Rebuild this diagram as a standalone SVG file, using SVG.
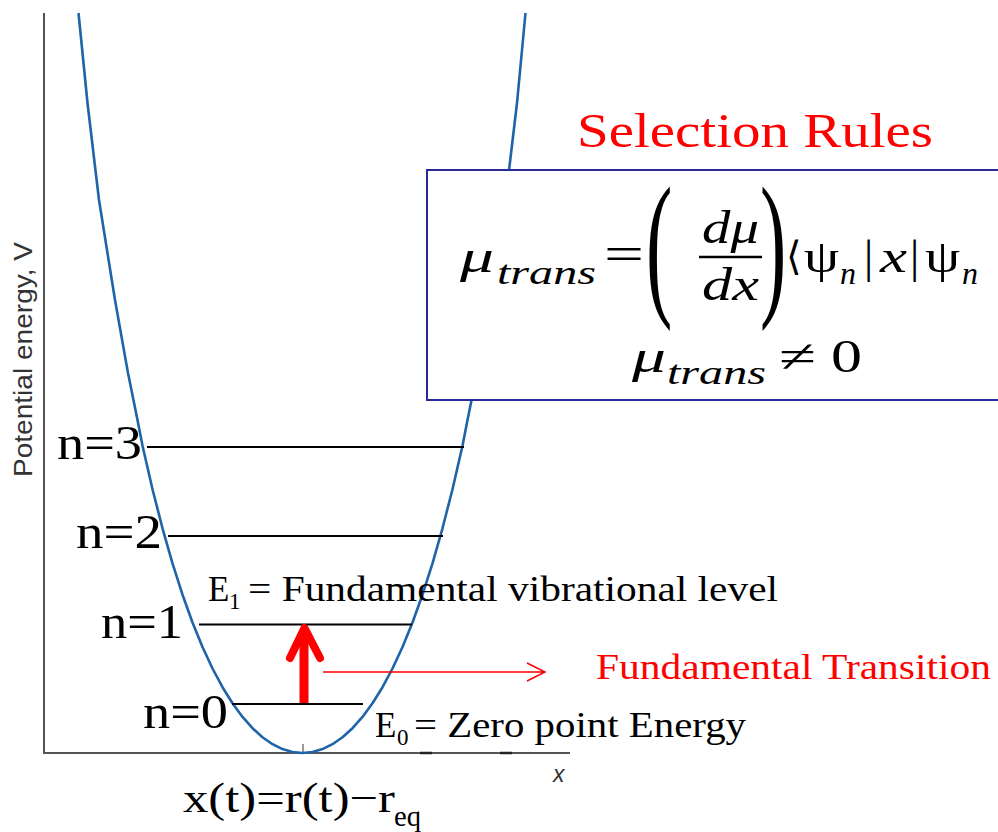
<svg xmlns="http://www.w3.org/2000/svg" width="998" height="832" viewBox="0 0 998 832">
<style>
.lbl{font-family:"Liberation Serif","Times New Roman",serif;fill:#000}
.red{fill:#ff0000}
.m{font-family:"Liberation Serif","DejaVu Serif",serif;fill:#000}
.mi{font-style:italic}
.lvl{stroke:#000;stroke-width:2;fill:none}
.ax{stroke:#555;stroke-width:2;fill:none}
</style>
<defs></defs>
<rect width="998" height="832" fill="#fff"/>
<g id="axes">
<line class="ax" x1="44" y1="13" x2="44" y2="754"/>
<line class="ax" x1="43" y1="753" x2="570" y2="753"/>
<line x1="420" y1="753" x2="432" y2="753" stroke="#222" stroke-width="2.5"/>
<line x1="500" y1="753" x2="512" y2="753" stroke="#222" stroke-width="2.5"/>
<line x1="303" y1="744" x2="303" y2="753" stroke="#333" stroke-width="1"/>
<text transform="translate(32,477) rotate(-90)" font-family="Liberation Sans, Arial, sans-serif" font-size="25" fill="#333" textLength="235" lengthAdjust="spacingAndGlyphs">Potential energy, V</text>
<text x="553" y="782" font-family="Liberation Sans, Arial, sans-serif" font-size="23" font-style="italic" fill="#333">x</text>
</g>
<g id="curve">
<path d="M78.5,13 L87.5,103 L99,200 L115,300 L128,373 L137.5,420 L142.5,445.7 L152.5,489.2 L162.5,528.3 L172.5,563.4 L182.5,594.7 L192.5,622.5 L202.5,647 L212.5,668.5 L222.5,687.2 L232.5,703.3 L242.5,716.9 L252.5,728.2 L262.5,737.3 L272.5,744.2 L282.5,749.1 L292.5,752 L302.5,753 L312.5,752 L322.5,749.1 L332.5,744.2 L342.5,737.3 L352.5,728.2 L362.5,716.9 L372.5,703.3 L382.5,687.2 L392.5,668.5 L402.5,647 L412.5,622.5 L422.5,594.7 L432.5,563.4 L442.5,528.3 L452.5,489.2 L462.5,445.7 L467.5,420 L477,373 L490,300 L505.5,200 L517,103 L525.5,13" fill="none" stroke="#1f63a8" stroke-width="2.6" stroke-linejoin="round"/>
</g>
<g id="box">
<rect x="427" y="170" width="580" height="230" fill="#fff" stroke="#2a2a96" stroke-width="2"/>
<text class="m mi" x="460" y="272" font-size="46" textLength="34" lengthAdjust="spacingAndGlyphs">μ</text>
<text class="m mi" x="497" y="284" font-size="34" textLength="99" lengthAdjust="spacingAndGlyphs">trans</text>
<text class="m" x="604" y="270" font-size="48" textLength="40" lengthAdjust="spacingAndGlyphs">=</text>
<text class="m" transform="translate(646,297) scale(0.5,1)" font-size="158">(</text>
<text class="m mi" x="702" y="243" font-size="46" textLength="57" lengthAdjust="spacingAndGlyphs">dμ</text>
<line x1="699" y1="257" x2="762" y2="257" stroke="#000" stroke-width="2.5"/>
<text class="m mi" x="702" y="300" font-size="46" textLength="57" lengthAdjust="spacingAndGlyphs">dx</text>
<text class="m" transform="translate(760,297) scale(0.5,1)" font-size="158">)</text>
<text class="m" x="786" y="270" font-size="40">⟨</text>
<text class="m" x="804" y="272" font-size="46" textLength="35" lengthAdjust="spacingAndGlyphs">ψ</text>
<text class="m mi" x="840" y="284" font-size="32">n</text>
<text class="m" x="864" y="272" font-size="46">|</text>
<text class="m mi" x="880" y="272" font-size="46" textLength="27" lengthAdjust="spacingAndGlyphs">x</text>
<text class="m" x="910" y="272" font-size="46">|</text>
<text class="m" x="925" y="272" font-size="46" textLength="35" lengthAdjust="spacingAndGlyphs">ψ</text>
<text class="m mi" x="962" y="284" font-size="32">n</text>
<text class="m mi" x="632" y="372" font-size="46" textLength="34" lengthAdjust="spacingAndGlyphs">μ</text>
<text class="m mi" x="667" y="384" font-size="34" textLength="99" lengthAdjust="spacingAndGlyphs">trans</text>
<text class="m" x="779" y="372" font-size="46" textLength="37" lengthAdjust="spacingAndGlyphs">≠</text>
<text class="m" x="831" y="372" font-size="46" textLength="31" lengthAdjust="spacingAndGlyphs">0</text>
</g>
<g id="title">
<text class="lbl red" x="577" y="147" font-size="49" textLength="356" lengthAdjust="spacingAndGlyphs">Selection Rules</text>
</g>
<g id="level3">
<line class="lvl" x1="147" y1="447" x2="464" y2="447"/>
<text class="lbl" x="57" y="459" font-size="48" textLength="85" lengthAdjust="spacingAndGlyphs">n=3</text>
</g>
<g id="level2">
<line class="lvl" x1="168" y1="536" x2="443" y2="536"/>
<text class="lbl" x="76" y="548" font-size="48" textLength="86" lengthAdjust="spacingAndGlyphs">n=2</text>
</g>
<g id="level1">
<line class="lvl" x1="199" y1="624.5" x2="412" y2="624.5"/>
<text class="lbl" x="101" y="638" font-size="48" textLength="82" lengthAdjust="spacingAndGlyphs">n=1</text>
<text class="lbl" x="208" y="601" font-size="35">E</text>
<text class="lbl" x="229" y="609" font-size="23">1</text>
<text class="lbl" x="248" y="601" font-size="35" textLength="530" lengthAdjust="spacingAndGlyphs">= Fundamental vibrational level</text>
</g>
<g id="level0">
<line class="lvl" x1="232" y1="704" x2="363" y2="704"/>
<text class="lbl" x="143" y="728" font-size="48" textLength="85" lengthAdjust="spacingAndGlyphs">n=0</text>
<text class="lbl" x="375" y="737" font-size="35">E</text>
<text class="lbl" x="397" y="745" font-size="23">0</text>
<text class="lbl" x="414" y="737" font-size="35" textLength="332" lengthAdjust="spacingAndGlyphs">= Zero point Energy</text>
</g>
<g id="connectors">
<path d="M304,703 L304,634" stroke="#ff0000" stroke-width="9" fill="none"/>
<path d="M290,658 L304.5,628 L320,658" stroke="#ff0000" stroke-width="8" fill="none" stroke-linecap="round" stroke-linejoin="round"/>
<path d="M323,672 L545,672 M527,663 L545,672 L527,681" stroke="#ff0000" stroke-width="1.5" fill="none"/>
</g>
<g id="labels">
<text class="lbl red" x="596" y="679" font-size="36" textLength="395" lengthAdjust="spacingAndGlyphs">Fundamental Transition</text>
<text class="lbl" x="183" y="812" font-size="42" textLength="212" lengthAdjust="spacingAndGlyphs">x(t)=r(t)−r</text>
<text class="lbl" x="394" y="826" font-size="29" textLength="27" lengthAdjust="spacingAndGlyphs">eq</text>
</g>
</svg>
